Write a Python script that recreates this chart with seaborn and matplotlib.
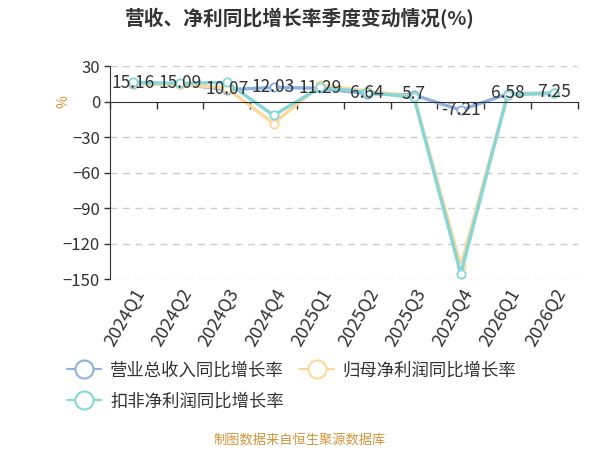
import pandas as pd
import seaborn as sns
import matplotlib.pyplot as plt
from matplotlib.lines import Line2D

quarters = ['2024Q1', '2024Q2', '2024Q3', '2024Q4', '2025Q1',
            '2025Q2', '2025Q3', '2025Q4', '2026Q1', '2026Q2']
revenue = [15.16, 15.09, 10.07, 12.03, 11.29, 6.64, 5.7, -7.21, 6.58, 7.25]
net_profit = [15.5, 14.5, 11.5, -18.5, 14.0, 9.0, 4.0, -139.0, 6.0, 7.0]
deducted = [16.3, 15.4, 16.3, -11.6, 12.0, 8.0, 3.5, -145.5, 6.0, 7.0]

names = ['营业总收入同比增长率', '归母净利润同比增长率', '扣非净利润同比增长率']
colors = ['#8fb0e0', '#fdd89a', '#86d6d8']

sns.set_style('white')
plt.rcParams['font.family'] = ['Noto Sans CJK SC', 'DejaVu Sans']

fig = plt.figure(figsize=(6, 4.5), dpi=100)
ax = fig.add_axes([0.183, 0.38, 0.78, 0.473])

for vals, name, c in zip([revenue, net_profit, deducted], names, colors):
    df = pd.DataFrame({'q': quarters, 'v': vals})
    sns.lineplot(data=df, x='q', y='v', ax=ax, color=c, linewidth=2.4,
                 marker='o', markersize=6, markerfacecolor='white',
                 markeredgecolor=c, markeredgewidth=1.3, sort=False)

# value labels for revenue
for i, v in enumerate(revenue):
    ax.text(i, v + 0.5, f'{v:g}', ha='center', va='center', fontsize=12.5, color='#333333')

ax.set_ylim(-150, 30)
ax.set_xlim(-0.5, len(quarters) - 0.5)
ax.set_yticks(range(-150, 31, 30))
ax.tick_params(axis='y', labelsize=12, colors='#333333', length=4, width=1, direction='out', left=True, pad=3)
for y in range(-150, 31, 30):
    if y != 0:
        ax.axhline(y, color='#cccccc', linestyle=(0, (5, 4)), linewidth=1, zorder=0)

for s in ['top', 'right']:
    ax.spines[s].set_visible(False)
ax.spines['left'].set_color('#333333')
ax.spines['bottom'].set_position(('data', 0))
ax.spines['bottom'].set_color('#333333')
ax.set_xticks([i + 0.5 for i in range(-1, len(quarters))], minor=True)
ax.set_xticks(range(len(quarters)))
ax.set_xticklabels([])
ax.tick_params(axis='x', which='major', length=0)
ax.tick_params(axis='x', which='minor', length=5, width=1, color='#333333', direction='out', bottom=True)

sec = ax.secondary_xaxis(-0.0)
sec.set_xticks(range(len(quarters)))
sec.set_xticklabels(quarters, rotation=60, ha='right', rotation_mode='anchor', fontsize=13, color='#333333')
sec.tick_params(length=0, pad=5)
sec.spines['bottom'].set_visible(False)

ax.set_xlabel('')
ax.set_ylabel('%', color='#d4943a', fontsize=10)
ax.yaxis.set_label_coords(-0.085, 0.835)

fig.text(0.5, 0.958, '营收、净利同比增长率季度变动情况(%)', ha='center', va='center',
         fontsize=14.2, fontweight='bold', color='#333333')
fig.text(0.5, 0.022, '制图数据来自恒生聚源数据库', ha='center', va='center',
         fontsize=9.5, color='#d4943a')

handles = [Line2D([], [], color=c, linewidth=1.5, marker='o', markersize=13,
                  markerfacecolor='white', markeredgecolor=c, markeredgewidth=1.5)
           for c in colors]
order = [0, 2, 1]
fig.legend([handles[i] for i in order], [names[i] for i in order], ncol=2,
           loc='upper left', bbox_to_anchor=(0.085, 0.232), frameon=False,
           fontsize=12.5, handlelength=2.0, handletextpad=0.5, columnspacing=0.9,
           labelspacing=0.75, labelcolor='#333333')

fig.savefig('out.png', dpi=100)
